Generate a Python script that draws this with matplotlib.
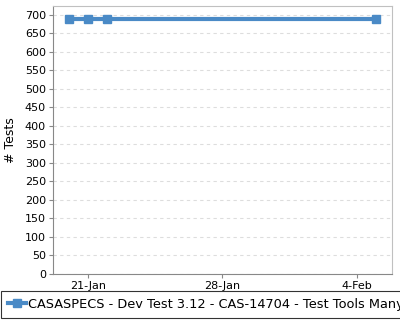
import matplotlib
matplotlib.use("Agg")
import matplotlib.pyplot as plt
import pandas as pd

# Data
dates = pd.to_datetime(['2013-01-20', '2013-01-21', '2013-01-22', '2013-02-05'])
tests = [690, 690, 690, 690]
series_name = 'CASASPECS - Dev Test 3.12 - CAS-14704 - Test Tools Many Lines'
tick_dates = pd.to_datetime(['2013-01-21', '2013-01-28', '2013-02-04'])
tick_labels = ['21-Jan', '28-Jan', '4-Feb']

fig = plt.figure(figsize=(4, 3.2), dpi=100)
ax = fig.add_axes([0.1325, 0.144, 0.8475, 0.837])

ax.plot(dates, tests, color='#4a8ac6', linewidth=3, marker='s', markersize=6,
        label=series_name)

ax.set_ylim(0, 724)
ax.set_yticks(range(0, 701, 50))
ax.set_xlim(pd.Timestamp('2013-01-19 04:00'), pd.Timestamp('2013-02-05 20:00'))
ax.set_xticks(tick_dates)
ax.set_xticklabels(tick_labels)
ax.tick_params(labelsize=8, length=3, color='#888888', pad=2)
ax.set_ylabel('# Tests', fontsize=9, labelpad=6)

ax.grid(axis='y', linestyle=(0, (3, 3)), color='#dddddd', linewidth=0.8)
ax.set_axisbelow(True)
for side in ['left', 'bottom']:
    ax.spines[side].set_color('#888888')
for side in ['top', 'right']:
    ax.spines[side].set_color('#c0c0c0')

leg = fig.legend(loc='lower left', bbox_to_anchor=(0.003, 0.006), fontsize=9.3,
                 frameon=True, fancybox=False, edgecolor='black',
                 handlelength=1.4, handletextpad=0.15, borderpad=0.55,
                 borderaxespad=0)
leg.get_frame().set_linewidth(0.8)

fig.savefig('out.png', dpi=100)
